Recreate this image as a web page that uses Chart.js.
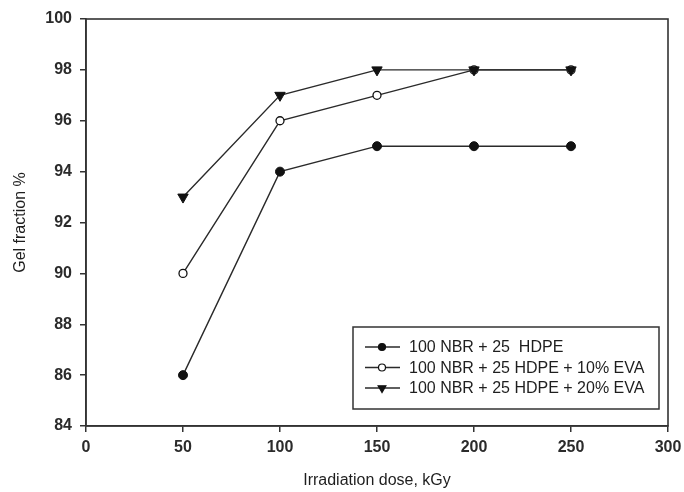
<!DOCTYPE html>
<html>
<head>
<meta charset="utf-8">
<script src="https://cdn.jsdelivr.net/npm/chart.js@4"></script>
<style>
  html, body { margin: 0; padding: 0; background: #fff; }
  #wrap { width: 684px; height: 492px; }
</style>
</head>
<body>
<div id="wrap"><canvas id="myChart1" width="684" height="492"></canvas></div>
<script>
// irradiation dose, kGy
var doses = [50, 100, 150, 200, 250];
// gel fraction %
var nbrHdpe = [86, 94, 95, 95, 95];
var eva10 = [90, 96, 97, 98, 98];
var eva20 = [93, 97, 98, 98, 98];
var seriesNames = ['100 NBR + 25  HDPE', '100 NBR + 25 HDPE + 10% EVA', '100 NBR + 25 HDPE + 20% EVA'];

function pts(ys) {
  return doses.map(function (d, i) { return { x: d, y: ys[i] }; });
}

var ink = '#1e1e1e';
var font = "'Liberation Sans', Arial, sans-serif";

// frame round the plot area (top and right sides too)
var frame = {
  id: 'frame',
  afterDatasetsDraw: function (chart) {
    var a = chart.chartArea, c = chart.ctx;
    c.save();
    c.strokeStyle = '#333';
    c.lineWidth = 1.6;
    c.strokeRect(a.left, a.top, a.right - a.left, a.bottom - a.top);
    c.restore();
  }
};

// legend box in the lower right corner, line sample with marker
var boxLegend = {
  id: 'boxLegend',
  afterDraw: function (chart) {
    var a = chart.chartArea, c = chart.ctx;
    var right = a.right - 9, bottom = a.bottom - 17;
    var w = 306, h = 82;
    var left = right - w, top = bottom - h;
    c.save();
    c.strokeStyle = '#333';
    c.lineWidth = 1.5;
    c.strokeRect(left, top, w, h);
    chart.data.datasets.forEach(function (ds, i) {
      var y = top + 20 + i * 20.5;
      c.strokeStyle = ds.borderColor;
      c.lineWidth = 1.4;
      c.beginPath();
      c.moveTo(left + 12, y);
      c.lineTo(left + 47, y);
      c.stroke();
      c.fillStyle = ds.pointBackgroundColor;
      c.strokeStyle = ds.pointBorderColor;
      c.lineWidth = 1.2;
      Chart.helpers.drawPoint(c, {
        pointStyle: ds.pointStyle,
        rotation: ds.pointRotation || 0,
        radius: ds.pointStyle === 'triangle' ? 4.5 : 3.5,
        borderWidth: 1.2
      }, left + 29, y);
      c.fillStyle = ink;
      c.font = '16px ' + font;
      c.textBaseline = 'middle';
      c.textAlign = 'left';
      c.fillText(ds.label, left + 56, y + 1);
    });
    c.restore();
  }
};

var ctx = document.getElementById('myChart1').getContext('2d');
var chart = new Chart(ctx, {
  type: 'scatter',
  data: {
    datasets: [{
      label: seriesNames[0],
      data: pts(nbrHdpe),
      showLine: true,
      borderColor: '#2a2a2a',
      borderWidth: 1.4,
      pointStyle: 'circle',
      pointRadius: 4.5,
      pointBackgroundColor: '#111',
      pointBorderColor: '#111',
      pointBorderWidth: 1,
      order: 2
    }, {
      label: seriesNames[1],
      data: pts(eva10),
      showLine: true,
      borderColor: '#2a2a2a',
      borderWidth: 1.4,
      pointStyle: 'circle',
      pointRadius: 4,
      pointBackgroundColor: '#fff',
      pointBorderColor: '#111',
      pointBorderWidth: 1.3,
      order: 1
    }, {
      label: seriesNames[2],
      data: pts(eva20),
      showLine: true,
      borderColor: '#2a2a2a',
      borderWidth: 1.4,
      pointStyle: 'triangle',
      pointRotation: 180,
      rotation: 180,
      pointRadius: 6,
      pointBackgroundColor: '#111',
      pointBorderColor: '#111',
      pointBorderWidth: 1,
      order: 0
    }]
  },
  plugins: [frame, boxLegend],
  options: {
    responsive: false,
    animation: false,
    layout: { padding: { left: 0, right: 16, top: 19, bottom: 0 } },
    plugins: { legend: { display: false }, tooltip: { enabled: false } },
    scales: {
      x: {
        type: 'linear',
        min: 0, max: 300,
        afterFit: function (s) { s.height = 66; s.paddingLeft = 0; s.paddingRight = 0; },
        ticks: { stepSize: 50, color: '#2b2b2b', padding: 6, font: { family: font, size: 16, weight: 'bold' } },
        grid: { drawOnChartArea: false, drawTicks: true, tickLength: 6, color: '#333', lineWidth: 1.5 },
        border: { display: true, color: '#333', width: 1.6 },
        title: { display: true, text: 'Irradiation dose, kGy', color: ink,
                 font: { family: font, size: 16 }, padding: { top: 4, bottom: 2 } }
      },
      y: {
        min: 84, max: 100,
        afterFit: function (s) { s.width = 86; s.paddingTop = 0; s.paddingBottom = 0; },
        ticks: { stepSize: 2, color: '#2b2b2b', padding: 8, font: { family: font, size: 16, weight: 'bold' } },
        grid: { drawOnChartArea: false, drawTicks: true, tickLength: 6, color: '#333', lineWidth: 1.5 },
        border: { display: true, color: '#333', width: 1.6 },
        title: { display: true, text: 'Gel fraction %', color: ink,
                 font: { family: font, size: 16 }, padding: { top: 11, bottom: 4 } }
      }
    }
  }
});
</script>
</body>
</html>
